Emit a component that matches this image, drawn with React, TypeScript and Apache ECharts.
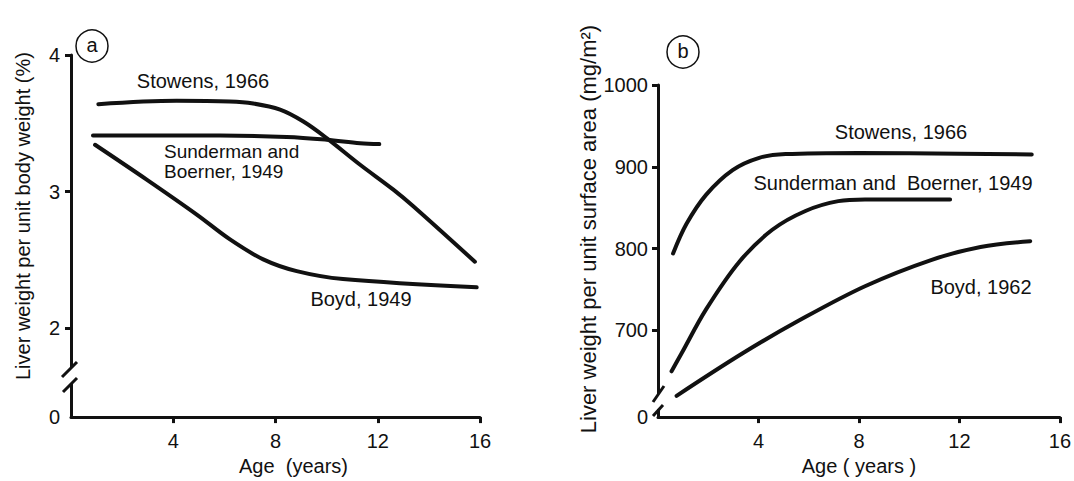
import React, { useEffect, useRef } from "react";
import * as echarts from "echarts";

// Panel (a): liver weight per unit body weight (%)
const stowensA: [number, number][] = [[1.07, 3.64], [4.13, 3.665], [6.2, 3.66], [7.13, 3.645], [8.18, 3.6], [9.09, 3.513], [10, 3.392], [11.31, 3.197], [12.61, 3.015], [13.39, 2.893], [15.8, 2.487]];
const sundermanA: [number, number][] = [[0.86, 3.41], [5.83, 3.41], [8.44, 3.4], [10, 3.38], [11.31, 3.355], [12.06, 3.348]];
const boydA: [number, number][] = [[0.94, 3.343], [2.96, 3.088], [4.92, 2.832], [6.22, 2.65], [7.52, 2.504], [8.83, 2.418], [10.64, 2.36], [15.87, 2.3]];

// Panel (b): liver weight per unit surface area (mg/m2)
const stowensB: [number, number][] = [[0.6, 794], [1.13, 830], [1.92, 866], [2.97, 896], [4.03, 911], [5.08, 915.6], [8, 917], [12, 916], [14.88, 915]];
const sundermanB: [number, number][] = [[0.54, 650], [0.94, 672], [1.92, 726], [3.24, 784], [4.55, 823], [5.87, 846], [7.18, 858], [8.24, 860], [11.63, 860]];
const boydB: [number, number][] = [[0.74, 620], [3.37, 672], [5.61, 712], [8.24, 754], [10.87, 786], [12.84, 802], [14.82, 809]];

const xTicks = [4, 8, 12, 16];
const yTicksA = [2, 3, 4];
const yTicksB = [700, 800, 900, 1000];
const yBaseA = 1.35; // position of the "0" label below the axis break
const yBaseB = 594;

const FONT = "Liberation Sans";
const INK = "#111";

export default function App() {
  const ref = useRef<HTMLDivElement>(null);
  useEffect(() => {
    if (!ref.current) return;
    const chart = echarts.init(ref.current, undefined, { renderer: "svg" });
    const lineSeries = (data: [number, number][], idx: number) => ({
      type: "line",
      xAxisIndex: idx,
      yAxisIndex: idx,
      data,
      smooth: 0.35,
      showSymbol: false,
      lineStyle: { color: INK, width: 4, cap: "round" },
      z: 3,
    });
    const axisCommonX = (idx: number, gap: number, name: string, pad: number[]) => ({
      type: "value",
      gridIndex: idx,
      min: 0,
      max: 16,
      name,
      nameLocation: "middle",
      nameGap: gap,
      nameTextStyle: { fontFamily: FONT, fontSize: 20, color: INK, padding: pad },
      axisLine: { lineStyle: { color: INK, width: 3 } },
      axisTick: { show: true, length: 6, lineStyle: { color: INK, width: 3 }, customValues: xTicks },
      axisLabel: { customValues: xTicks, fontFamily: FONT, fontSize: 20, color: INK, margin: 14 },
      splitLine: { show: false },
    });
    const option: any = {
      animation: false,
      backgroundColor: "#fff",
      grid: [
        { left: 71, right: 594, top: 55, bottom: 63 },
        { left: 658, right: 11, top: 85, bottom: 58 },
      ],
      xAxis: [
        axisCommonX(0, 35, "Age  (years)", [0, 0, 0, 36]),
        axisCommonX(1, 33, "Age ( years )", [0, 0, 0, 0]),
      ],
      yAxis: [
        {
          type: "value",
          gridIndex: 0,
          min: yBaseA,
          max: 4,
          name: "Liver weight per unit body weight (%)",
          nameLocation: "middle",
          nameGap: 38,
          nameTextStyle: { fontFamily: FONT, fontSize: 20, color: INK, padding: [0, 0, 0, 40] },
          axisLine: { show: true, lineStyle: { color: INK, width: 3 } },
          axisTick: { show: true, length: 6, lineStyle: { color: INK, width: 3 }, customValues: yTicksA },
          axisLabel: {
            customValues: [yBaseA, ...yTicksA],
            fontFamily: FONT,
            fontSize: 20,
            color: INK,
            margin: 11,
            formatter: (v: number) => (v < 1.9 ? "0" : String(v)),
          },
          splitLine: { show: false },
        },
        {
          type: "value",
          gridIndex: 1,
          min: yBaseB,
          max: 1000,
          name: "Liver weight per unit surface area (mg/m²)",
          nameLocation: "middle",
          nameGap: 44,
          nameTextStyle: { fontFamily: FONT, fontSize: 22, color: INK, padding: [0, 0, 0, 44] },
          axisLine: { show: true, lineStyle: { color: INK, width: 3 } },
          axisTick: { show: true, length: 6, lineStyle: { color: INK, width: 3 }, customValues: yTicksB },
          axisLabel: {
            customValues: [yBaseB, ...yTicksB],
            fontFamily: FONT,
            fontSize: 20,
            color: INK,
            margin: 10,
            formatter: (v: number) => (v < 650 ? "0" : String(v)),
          },
          splitLine: { show: false },
        },
      ],
      series: [
        lineSeries(stowensA, 0),
        lineSeries(sundermanA, 0),
        lineSeries(boydA, 0),
        lineSeries(stowensB, 1),
        lineSeries(sundermanB, 1),
        lineSeries(boydB, 1),
      ],
      graphic: [
        // panel markers
        { type: "circle", shape: { cx: 92, cy: 46, r: 16 }, style: { fill: "#fff", stroke: INK, lineWidth: 1.5 }, z: 10 },
        { type: "text", x: 92, y: 45, style: { text: "a", font: `20px "${FONT}"`, fill: INK, align: "center", verticalAlign: "middle" }, z: 11 },
        { type: "circle", shape: { cx: 683, cy: 52, r: 16 }, style: { fill: "#fff", stroke: INK, lineWidth: 1.5 }, z: 10 },
        { type: "text", x: 683, y: 51, style: { text: "b", font: `20px "${FONT}"`, fill: INK, align: "center", verticalAlign: "middle" }, z: 11 },
        // axis breaks
        { type: "rect", shape: { x: 64, y: 368, width: 14, height: 15 }, style: { fill: "#fff" }, z: 10 },
        { type: "line", shape: { x1: 62, y1: 377, x2: 77, y2: 362 }, style: { stroke: INK, lineWidth: 3 }, z: 11 },
        { type: "line", shape: { x1: 63, y1: 392, x2: 77, y2: 378 }, style: { stroke: INK, lineWidth: 3 }, z: 11 },
        { type: "rect", shape: { x: 651, y: 394, width: 14, height: 15 }, style: { fill: "#fff" }, z: 10 },
        { type: "line", shape: { x1: 653, y1: 402, x2: 664, y2: 386 }, style: { stroke: INK, lineWidth: 3 }, z: 11 },
        { type: "line", shape: { x1: 653, y1: 416, x2: 663, y2: 405 }, style: { stroke: INK, lineWidth: 3 }, z: 11 },
        // curve labels panel a
        { type: "text", x: 203, y: 81, style: { text: "Stowens, 1966", font: `20px "${FONT}"`, fill: INK, align: "center", verticalAlign: "middle" }, z: 11 },
        { type: "text", x: 164, y: 151, style: { text: "Sunderman and", font: `19px "${FONT}"`, fill: INK, align: "left", verticalAlign: "middle" }, z: 11 },
        { type: "text", x: 164, y: 171, style: { text: "Boerner, 1949", font: `19px "${FONT}"`, fill: INK, align: "left", verticalAlign: "middle" }, z: 11 },
        { type: "text", x: 361, y: 299, style: { text: "Boyd, 1949", font: `20px "${FONT}"`, fill: INK, align: "center", verticalAlign: "middle" }, z: 11 },
        // curve labels panel b
        { type: "text", x: 901, y: 132, style: { text: "Stowens, 1966", font: `20px "${FONT}"`, fill: INK, align: "center", verticalAlign: "middle" }, z: 11 },
        { type: "text", x: 893, y: 183, style: { text: "Sunderman and  Boerner, 1949", font: `20px "${FONT}"`, fill: INK, align: "center", verticalAlign: "middle" }, z: 11 },
        { type: "text", x: 981, y: 287, style: { text: "Boyd, 1962", font: `20px "${FONT}"`, fill: INK, align: "center", verticalAlign: "middle" }, z: 11 },
      ],
    };
    chart.setOption(option);
    return () => chart.dispose();
  }, []);
  return <div ref={ref} style={{ position: "fixed", left: 0, top: 0, width: 1074, height: 481, background: "#fff" }} />;
}
